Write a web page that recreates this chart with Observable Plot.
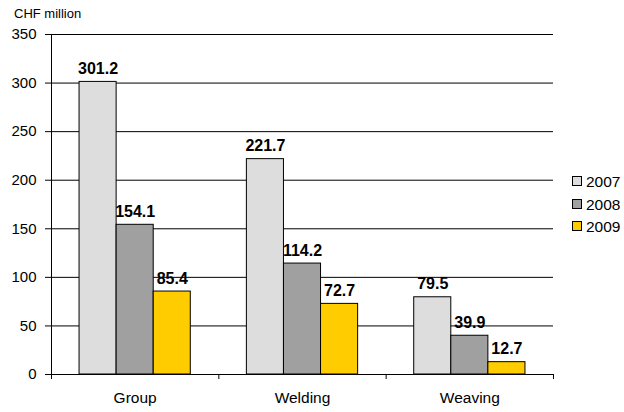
<!DOCTYPE html>
<html>
<head>
<meta charset="utf-8">
<script src="https://cdn.jsdelivr.net/npm/d3@7"></script>
<script src="https://cdn.jsdelivr.net/npm/@observablehq/plot@0.6"></script>
<style>
  html, body { margin: 0; padding: 0; background: #fff; }
  #chart { position: relative; width: 624px; height: 412px; font-family: "Liberation Sans", Arial, sans-serif; }
  #chart svg { position: absolute; left: 0; top: 0; }
  .unit { position: absolute; left: 14px; top: 7px; font-size: 13px; line-height: 13px; color: #000; }
  .legend { position: absolute; left: 572px; top: 174px; }
  .legend .row { position: relative; height: 22.5px; }
  .legend .sw { position: absolute; left: 0; top: 2px; width: 8px; height: 8px; border: 1px solid #000; }
  .legend .lbl { position: absolute; left: 14px; top: 0; font-size: 15.5px; line-height: 15px; color: #000; }
</style>
</head>
<body>
<div id="chart"></div>
<script>
// Operating result by segment, CHF million
const categories = ["Group", "Welding", "Weaving"];
const years = ["2007", "2008", "2009"];
const values2007 = [301.2, 221.7, 79.5];
const values2008 = [154.1, 114.2, 39.9];
const values2009 = [85.4, 72.7, 12.7];
const yTicks = [0, 50, 100, 150, 200, 250, 300, 350];
const unitLabel = "CHF million";

const colors = ["#dddddd", "#a0a0a0", "#ffcc00"];
const series = [values2007, values2008, values2009];

const data = [];
categories.forEach((c, ci) => {
  years.forEach((y, yi) => {
    data.push({category: c, ci, year: y, yi, value: series[yi][ci]});
  });
});

// each category occupies one unit on x; the three bars fill the middle of it
const barFrac = 0.2216;
const pad = (1 - years.length * barFrac) / 2;
const x1 = d => d.ci + pad + d.yi * barFrac;
const x2 = d => d.ci + pad + (d.yi + 1) * barFrac;
const xm = d => d.ci + pad + (d.yi + 0.5) * barFrac;

const plot = Plot.plot({
  width: 624,
  height: 412,
  marginLeft: 51,
  marginRight: 71,
  marginTop: 34,
  marginBottom: 38,
  style: {fontFamily: "Liberation Sans, Arial, sans-serif", color: "#000", background: "transparent"},
  x: {type: "linear", domain: [0, categories.length], axis: null},
  y: {domain: [0, 350], axis: null},
  color: {domain: years, range: colors},
  marks: [
    Plot.ruleY(yTicks, {y: d => d, stroke: "#000", strokeWidth: 1}),
    Plot.ruleX([0], {y1: 0, y2: 350, stroke: "#000", strokeWidth: 1}),
    Plot.axisY({ticks: yTicks, tickSize: 6, tickPadding: 9, fontSize: 15, label: null, stroke: "#000"}),
    Plot.axisX({ticks: d3.range(categories.length + 1), tickSize: 5, tickFormat: () => "", label: null, stroke: "#000"}),
    Plot.axisX({ticks: categories.map((c, i) => i + 0.5), tickSize: 0, tickPadding: 17, fontSize: 15.5,
                tickFormat: v => categories[Math.floor(v)], label: null}),
    Plot.rectY(data, {x1, x2, y: "value", fill: "year", stroke: "#000", strokeWidth: 1}),
    Plot.text(data, {x: xm, y: "value", text: d => d.value.toFixed(1), lineAnchor: "bottom", dy: -8,
                     fontSize: 16, fontWeight: "bold", fill: "#000"})
  ]
});

const root = document.getElementById("chart");
root.appendChild(plot);

const unit = document.createElement("div");
unit.className = "unit";
unit.textContent = unitLabel;
root.appendChild(unit);

const legend = document.createElement("div");
legend.className = "legend";
years.forEach((y, i) => {
  const row = document.createElement("div");
  row.className = "row";
  const sw = document.createElement("span");
  sw.className = "sw";
  sw.style.background = colors[i];
  const lbl = document.createElement("span");
  lbl.className = "lbl";
  lbl.textContent = y;
  row.appendChild(sw);
  row.appendChild(lbl);
  legend.appendChild(row);
});
root.appendChild(legend);
</script>
</body>
</html>
